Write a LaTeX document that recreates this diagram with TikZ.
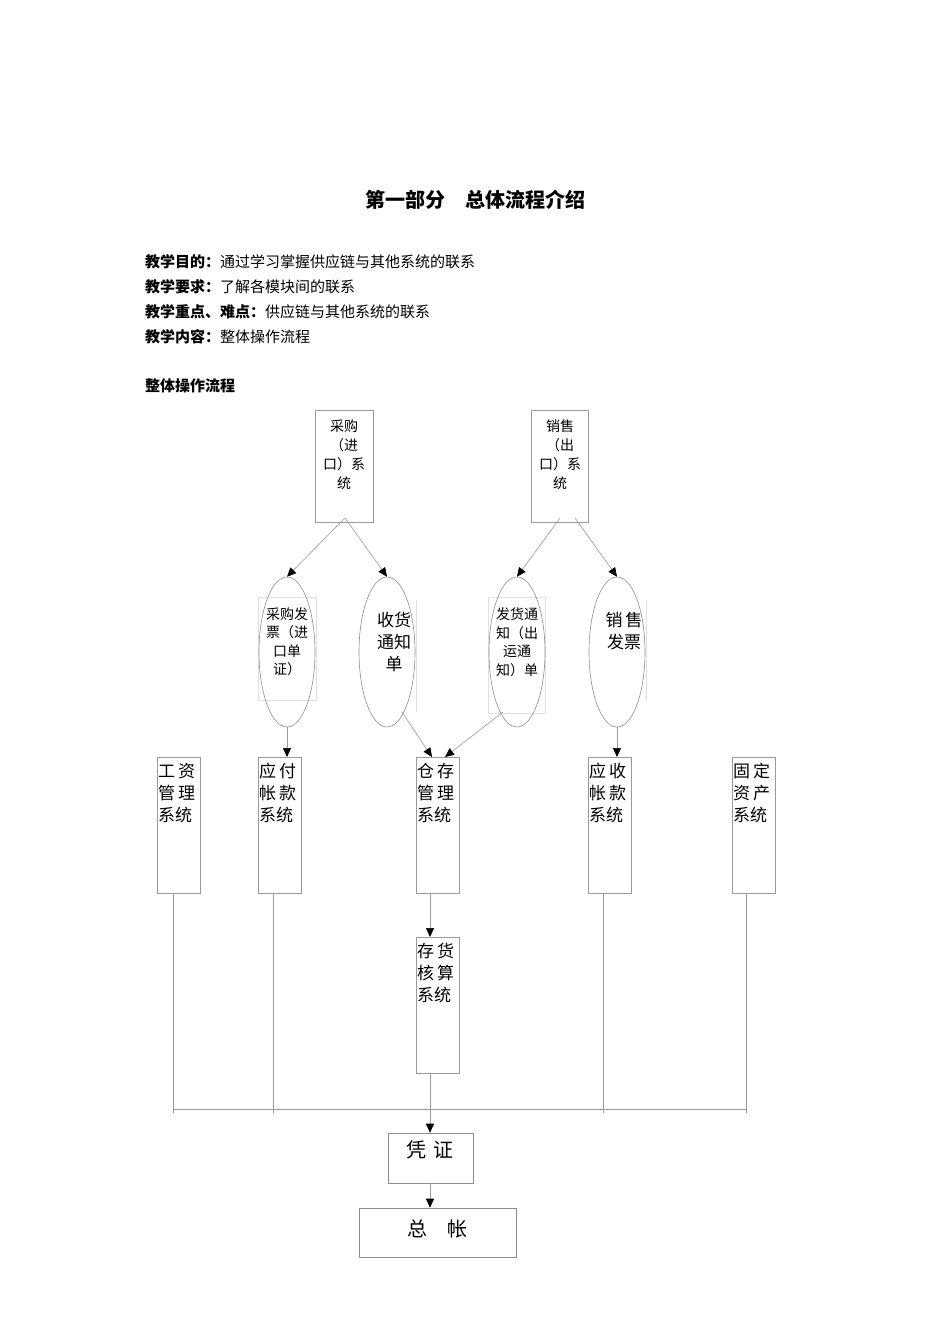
\documentclass[tikz,border=0pt]{standalone}
\usepackage{fontspec}
\setmainfont{Noto Sans CJK SC}
\usetikzlibrary{arrows.meta,shapes.geometric}
\begin{document}
\begin{tikzpicture}[x=1pt,y=-1pt,
  bx/.style={draw=black!45,line width=0.6pt,inner sep=0,minimum width=#1},
  el/.style={draw=black!45,line width=0.6pt,ellipse,inner sep=0,minimum width=56pt,minimum height=150pt},
  faint/.style={draw=black!12,line width=0.5pt},
  ln/.style={draw=black!40,line width=0.6pt},
  ar/.style={ln,-{Triangle[length=9pt,width=8pt,fill=black,color=black]}},
  t14/.style={font=\fontsize{14}{18.5}\selectfont,align=center,inner sep=0},
  t17/.style={font=\fontsize{17}{22}\selectfont,align=center,inner sep=0},
  tl/.style={font=\fontsize{17}{22}\selectfont,align=left,inner sep=0,anchor=north west},
  hd/.style={font=\fontsize{15}{18}\selectfont,anchor=west,inner sep=0}]
\useasboundingbox (0,0) rectangle (950,1344);
% title and header text
\node[font=\bfseries\fontsize{20}{24}\selectfont] (title) at (475,200) {第一部分\quad 总体流程介绍};
\node[hd] (h1) at (145,262) {\textbf{教学目的：}通过学习掌握供应链与其他系统的联系};
\node[hd] (h2) at (145,287) {\textbf{教学要求：}了解各模块间的联系};
\node[hd] (h3) at (145,312) {\textbf{教学重点、难点：}供应链与其他系统的联系};
\node[hd] (h4) at (145,337) {\textbf{教学内容：}整体操作流程};
\node[hd] (h5) at (145,386) {\textbf{整体操作流程}};
% top boxes
\draw[ln] (315,410) rectangle (373,522);
\node[t14,font=\fontsize{14}{19}\selectfont] (cg) at (344,455) {采购\\（进\\口）系\\统};
\draw[ln] (531,410) rectangle (588,522);
\node[t14,font=\fontsize{14}{19}\selectfont] (xs) at (560,455) {销售\\（出\\口）系\\统};
\coordinate (cgb) at (345,518);
\coordinate (xsb) at (560,518);
\coordinate (xsb2) at (575,518);
% faint rects
\draw[faint] (258,597) rectangle (316,700);
\draw[faint] (488,597) rectangle (545,713);
\draw[faint] (416,600) -- (416,712);
\draw[faint] (646,600) -- (646,700);
% ellipses
\node[el] (e1) at (287,652) {};
\node[el] (e2) at (387,652) {};
\node[el] (e3) at (517,652) {};
\node[el] (e4) at (617,652) {};
\node[t14] at (287,642) {采购发\\票（进\\口单\\证）};
\node[t17] at (394,642) {收货\\通知\\单};
\node[t14] at (517,642) {发货通\\知（出\\运通\\知）单};
\node[t17] at (624,631) {销\,售\\发票};
\draw[ar] (cgb) -- (e1.north);
\draw[ar] (cgb) -- (e2.north);
\draw[ar] (xsb) -- (e3.north);
\draw[ar] (xsb2) -- (e4.north);
% second row boxes
\foreach \n/\xa/\xb in {gz/157/200,yf/258/301,cc/416/459,ys/588/631,gd/732/775}{
  \draw[ln] (\xa,757) rectangle (\xb,893);
  \coordinate (\n) at (\xa,757);
}
\node[tl] at (158,763) {工\,资\\管\,理\\系统};
\node[tl] at (259,763) {应\,付\\帐\,款\\系统};
\node[tl] at (417,763) {仓\,存\\管\,理\\系统};
\node[tl] at (589,763) {应\,收\\帐\,款\\系统};
\node[tl] at (733,763) {固\,定\\资\,产\\系统};
\coordinate (yft) at (287,757);
\coordinate (cct1) at (432,757);
\coordinate (cct2) at (445,757);
\coordinate (yst) at (617,757);
\coordinate (e2o) at (402,712);
\coordinate (e3o) at (503,712);
\draw[ar] (e1.south) -- (yft);
\draw[ar] (e2o) -- (cct1);
\draw[ar] (e3o) -- (cct2);
\draw[ar] (e4.south) -- (yst);
% inventory costing
\draw[ln] (416,937) rectangle (459,1073);
\node[tl] at (417,943) {存\,货\\核\,算\\系统};
\coordinate (ccb) at (430,893);
\coordinate (chT) at (430,937);
\draw[ar] (ccb) -- (chT);
% bus
\coordinate (b1) at (173,1109);
\coordinate (b2) at (746,1109);
\draw[ln] (b1) -- (b2);
\foreach \xx in {173,273,603,746}{ \draw[ln] (\xx,893) -- (\xx,1113); }
% voucher and ledger
\node[bx=85pt,minimum height=50pt] (pz) at (430.5,1158) {};
\node[font=\fontsize{20}{24}\selectfont] at (430,1150) {凭\,\,证};
\node[bx=157pt,minimum height=49pt] (zz) at (437.5,1232.5) {};
\node[font=\fontsize{20}{24}\selectfont] at (437,1229) {总\quad 帐};
\coordinate (chb) at (430,1073);
\draw[ar] (chb) -- (pz.north -| chb);
\draw[ar] (pz.south -| chb) -- (zz.north -| chb);
\end{tikzpicture}
\end{document}
